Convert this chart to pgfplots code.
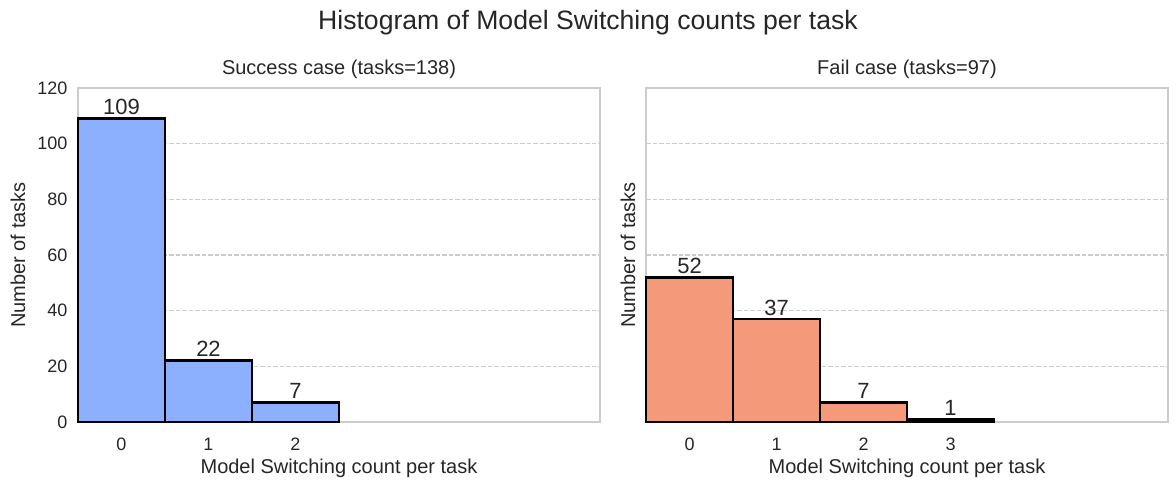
\documentclass[border=0pt]{standalone}
\usepackage{pgfplots}
\pgfplotsset{compat=1.18}
\usepackage{fontspec}
\setmainfont{Liberation Sans}
\definecolor{txt}{HTML}{262626}
\definecolor{frame}{HTML}{CCCCCC}
\definecolor{cblue}{HTML}{8DB0FE}
\definecolor{corange}{HTML}{F49A7B}
\pgfplotsset{
  hist/.style={
    scale only axis, width=522pt, height=334pt,
    xmin=-0.5, xmax=5.5, ymin=0, ymax=120,
    ytick={0,20,...,120},
    axis line style={draw=frame, line width=1.7pt},
    major tick length=0pt,
    ymajorgrids, grid style={draw=frame, line width=1.1pt, dash pattern=on 4.5pt off 2pt},
    /pgf/number format/assume math mode=true,
    tick label style={font=\fontsize{18}{20}\selectfont, text=txt},
    xticklabel style={anchor=base, yshift=-28.5pt},
    yticklabel style={anchor=east, xshift=-7pt},
    label style={font=\fontsize{20}{24}\selectfont, text=txt},
    xlabel style={at={(axis description cs:0.5,-0.1527)}, anchor=base},
    title style={font=\fontsize{20}{24}\selectfont, text=txt, at={(axis description cs:0.5,1)}, anchor=base, yshift=7pt},
    xlabel={Model Switching count per task},
    ylabel={Number of tasks},
    clip=false,
    ybar, bar width=1, bar shift=0,
    nodes near coords,
    every node near coord/.style={font=\fontsize{22}{24}\selectfont, text=txt, anchor=base, yshift=4pt},
  }
}
\begin{document}
\begin{tikzpicture}
\path[use as bounding box] (0,0) rectangle (1176pt,488pt);
\node[font=\fontsize{26.6}{30}\selectfont, text=txt, anchor=base] at (588pt,458.5pt) {Histogram of Model Switching counts per task};
\begin{axis}[hist, at={(78pt,66pt)}, anchor=south west,
  xtick={0,1,2},
  title={Success case (tasks=138)},
  ylabel style={at={(axis description cs:-0.1149,0.5)}, anchor=center},
]
\addplot[fill=cblue, draw=black, line width=2.8pt] coordinates {(0,109) (1,22) (2,7)};
\end{axis}
\begin{axis}[hist, at={(646pt,66pt)}, anchor=south west,
  xtick={0,1,2,3},
  yticklabels={},
  title={Fail case (tasks=97)},
  ylabel style={at={(axis description cs:-0.0345,0.5)}, anchor=center},
]
\addplot[fill=corange, draw=black, line width=2.8pt] coordinates {(0,52) (1,37) (2,7) (3,1)};
\end{axis}
\end{tikzpicture}
\end{document}
